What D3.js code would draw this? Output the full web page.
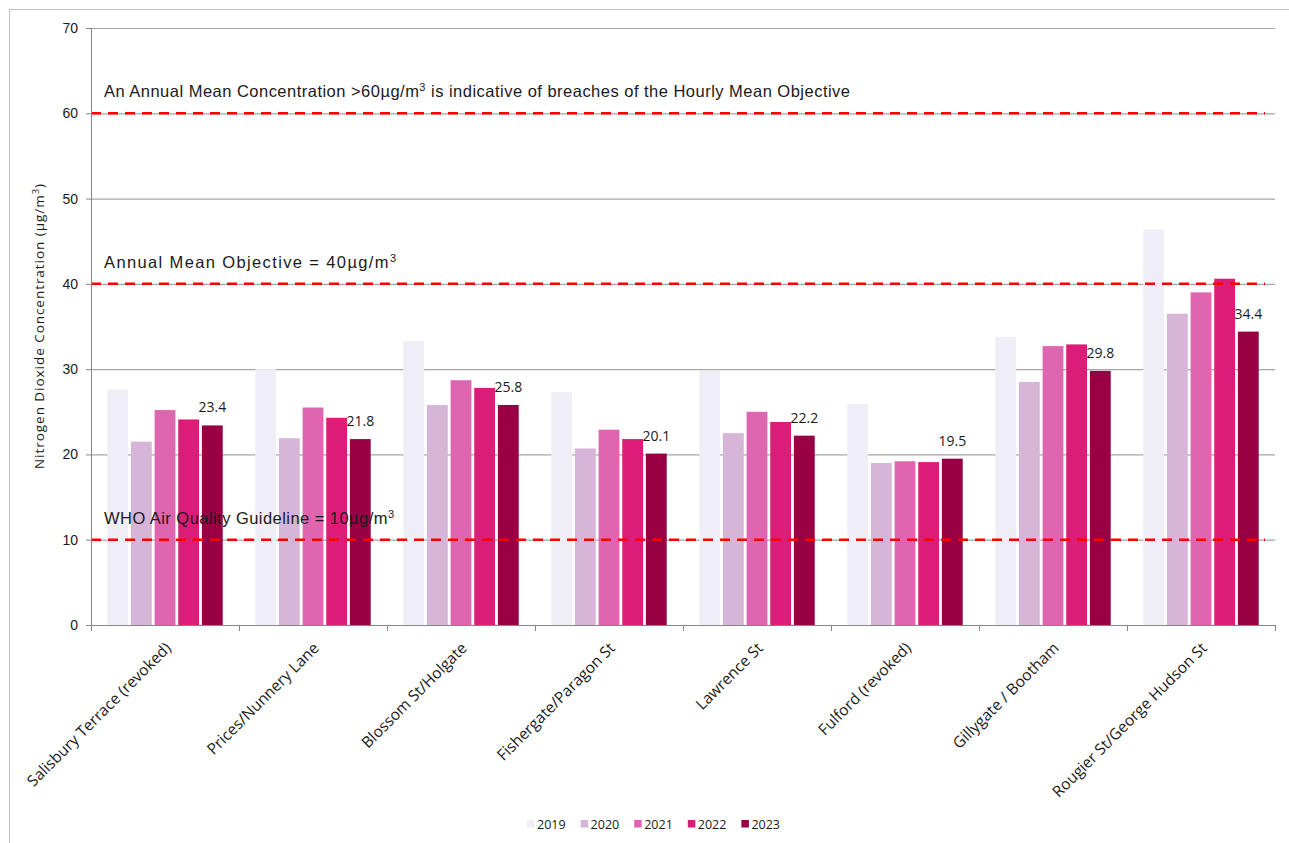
<!DOCTYPE html>
<html>
<head>
<meta charset="utf-8">
<script src="https://cdn.jsdelivr.net/npm/d3@7"></script>
<style>
  body { margin: 0; background: #fff; }
  svg { display: block; }
</style>
</head>
<body>
<div id="chart-area"></div>
<script>
// NO2 annual means per AQMA site, 2019 - 2023
var sites = ["Salisbury Terrace (revoked)", "Prices/Nunnery Lane", "Blossom St/Holgate",
    "Fishergate/Paragon St", "Lawrence St", "Fulford (revoked)", "Gillygate / Bootham",
    "Rougier St/George Hudson St"];
var years = ["2019", "2020", "2021", "2022", "2023"];
var v2019 = [27.6, 30.0, 33.3, 27.3, 29.8, 25.9, 33.8, 46.4];
var v2020 = [21.5, 21.9, 25.8, 20.7, 22.5, 19.0, 28.5, 36.5];
var v2021 = [25.2, 25.5, 28.7, 22.9, 25.0, 19.2, 32.7, 39.0];
var v2022 = [24.1, 24.3, 27.8, 21.8, 23.8, 19.1, 32.9, 40.6];
var v2023 = [23.4, 21.8, 25.8, 20.1, 22.2, 19.5, 29.8, 34.4];
var yTicks = [0, 10, 20, 30, 40, 50, 60, 70];
var colours = ["#efedf5", "#d7b5d8", "#df65b0", "#dd1c77", "#980043"];

var limits = [60, 40, 10];
var limitText = [
    ["An Annual Mean Concentration  >60\u00b5g/m", "3", " is indicative  of breaches  of the Hourly Mean Objective"],
    ["Annual Mean Objective  = 40\u00b5g/m", "3", ""],
    ["WHO Air Quality Guideline  = 10\u00b5g/m", "3", ""]
];
var limitLen = [746, 292, 290];

var margin = { left:91, right:14, top:28, bottom:218 };
var width = 1289 - margin.left - margin.right,
    height = 843 - margin.top - margin.bottom;

var svg = d3.select("#chart-area")
    .append("svg")
    .attr("width", 1289)
    .attr("height", 843)
    .style("font-family", "'Liberation Sans', Arial, sans-serif");

// chart border
svg.append("rect")
    .attr("x", 9.5).attr("y", 9.5)
    .attr("width", 1300).attr("height", 850)
    .attr("fill", "none")
    .attr("stroke", "#bfbfbf");

var g = svg.append("g")
    .attr("transform", "translate(" + margin.left + "," + margin.top + ")");

var data = sites.map(function(s, i){
    return { site: s, values: [v2019[i], v2020[i], v2021[i], v2022[i], v2023[i]] };
});

var x0 = d3.scaleBand()
    .domain(sites)
    .range([0, width])
    .paddingInner(0.22)
    .paddingOuter(0.11);

var x1 = d3.scaleBand()
    .domain(years)
    .range([0, x0.bandwidth()])
    .paddingInner(0.12)
    .paddingOuter(0);

var y = d3.scaleLinear()
    .domain([0, 70])
    .range([height, 0]);

// gridlines
g.append("g")
    .selectAll("line")
    .data(yTicks.slice(1))
    .enter().append("line")
        .attr("x1", 0).attr("x2", width)
        .attr("y1", function(d){ return y(d) + 0.5; })
        .attr("y2", function(d){ return y(d) + 0.5; })
        .attr("stroke", "#a6a6a6")
        .attr("stroke-width", 1.2);

// bars
var groups = g.selectAll(".site")
    .data(data)
    .enter().append("g")
        .attr("class", "site")
        .attr("transform", function(d){ return "translate(" + x0(d.site) + ",0)"; });

groups.selectAll("rect")
    .data(function(d){ return d.values.map(function(v, i){ return { year: years[i], value: v, i: i }; }); })
    .enter().append("rect")
        .attr("x", function(d){ return x1(d.year); })
        .attr("y", function(d){ return y(d.value); })
        .attr("width", x1.bandwidth())
        .attr("height", function(d){ return height - y(d.value); })
        .attr("fill", function(d){ return colours[d.i]; });

// 2023 labels
groups.append("text")
    .attr("x", x1("2023") + x1.bandwidth() / 2)
    .attr("y", function(d){ return y(d.values[4]) - 13; })
    .attr("text-anchor", "middle")
    .attr("font-family", "'Open Sans', sans-serif")
    .attr("font-size", "14px")
    .attr("fill", "#1a1a1a")
    .text(function(d){ return d.values[4].toFixed(1); });

// limit lines
g.append("g")
    .selectAll("line")
    .data(limits)
    .enter().append("line")
        .attr("x1", 0).attr("x2", width - 10)
        .attr("y1", function(d){ return y(d); })
        .attr("y2", function(d){ return y(d); })
        .attr("stroke", "#ff0000")
        .attr("stroke-width", 2.5)
        .attr("stroke-dasharray", "10,7");

var lt = g.append("g")
    .selectAll("text")
    .data(limits)
    .enter().append("text")
        .attr("x", 13)
        .attr("y", function(d){ return y(d) - 16; })
        .attr("font-family", "'Liberation Sans Narrow', 'Liberation Sans', Arial, sans-serif")
        .attr("font-size", "16.5px")
        .attr("fill", "#1a1a1a")
        .attr("textLength", function(d, i){ return limitLen[i]; })
        .attr("lengthAdjust", "spacing");
lt.append("tspan").text(function(d, i){ return limitText[i][0]; });
lt.append("tspan").attr("dy", -6).attr("font-size", "11px").text(function(d, i){ return limitText[i][1]; });
lt.append("tspan").attr("dy", 6).text(function(d, i){ return limitText[i][2]; });

// y axis
var yAxisCall = d3.axisLeft(y)
    .tickValues(yTicks)
    .tickSize(5)
    .tickPadding(8);
var yAx = g.append("g")
    .attr("class", "y-axis")
    .call(yAxisCall);
yAx.select(".domain").attr("stroke", "#868686").attr("d", "M0.5," + height + "V0");
yAx.selectAll(".tick line").attr("stroke", "#868686");
yAx.selectAll("text").attr("font-size", "14px").attr("fill", "#1a1a1a");

// x axis
var xAxisCall = d3.axisBottom(x0).tickSize(0).tickPadding(0);
var xAx = g.append("g")
    .attr("class", "x-axis")
    .attr("transform", "translate(0," + height + ")")
    .call(xAxisCall);
xAx.select(".domain").attr("stroke", "#868686").attr("d", "M0,0.5H" + width);
xAx.selectAll("text")
    .attr("font-family", "'Open Sans', sans-serif")
    .attr("font-size", "15.5px")
    .attr("fill", "#1a1a1a")
    .attr("text-anchor", "end")
    .attr("x", 0)
    .attr("y", 0)
    .attr("dy", 0)
    .attr("transform", "translate(7,24) rotate(-45)");

// category boundary ticks
var bounds = sites.map(function(s){ return x0(s) - x0.step() * x0.paddingOuter(); }).concat([width]);
xAx.selectAll(".bound")
    .data(bounds)
    .enter().append("line")
        .attr("class", "bound")
        .attr("x1", function(d){ return Math.round(d) + 0.5; })
        .attr("x2", function(d){ return Math.round(d) + 0.5; })
        .attr("y1", 0).attr("y2", 6)
        .attr("stroke", "#868686");

// y label
var yl = g.append("text")
    .attr("transform", "rotate(-90)")
    .attr("x", -(y(35)))
    .attr("y", -47)
    .attr("text-anchor", "middle")
    .attr("font-family", "'Open Sans', sans-serif")
    .attr("font-size", "13.5px")
    .attr("fill", "#1a1a1a")
    .attr("textLength", 285)
    .attr("lengthAdjust", "spacing");
yl.append("tspan").text("Nitrogen Dioxide Concentration (\u00b5g/m");
yl.append("tspan").attr("dy", -5).attr("font-size", "9.5px").text("3");
yl.append("tspan").attr("dy", 5).text(")");

// legend
var legend = svg.append("g")
    .attr("transform", "translate(527,820)");
var li = legend.selectAll("g")
    .data(years)
    .enter().append("g")
        .attr("transform", function(d, i){ return "translate(" + (i * 53.6) + ",0)"; });
li.append("rect")
    .attr("width", 7.5).attr("height", 7.5)
    .attr("fill", function(d, i){ return colours[i]; });
li.append("text")
    .attr("x", 10)
    .attr("y", 9)
    .attr("font-family", "'Open Sans', sans-serif")
    .attr("font-size", "12.5px")
    .attr("fill", "#1a1a1a")
    .text(function(d){ return d; });
</script>
</body>
</html>
